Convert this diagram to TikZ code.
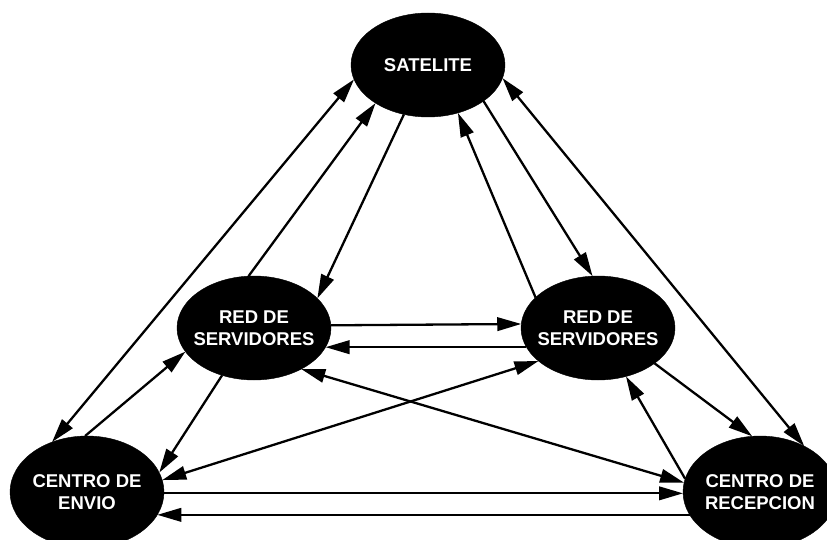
\documentclass[tikz,border=0pt]{standalone}
\usepackage{fontspec}
\setmainfont{Liberation Sans}
\usetikzlibrary{arrows.meta,shapes.geometric}
\tikzset{
  nd/.style={ellipse, fill=black, draw=black, inner sep=0pt, outer sep=0pt,
    text=white, font=\bfseries\fontsize{18.5}{22.5}\selectfont, align=center},
  tipA/.tip={Triangle[length=24pt,width=13.5pt]},
  conn/.style={line width=2.3pt, -tipA},
  bi/.style={line width=2.3pt, tipA-tipA}
}
\newcommand{\zc}[1]{\makebox[0pt][c]{#1}}
\begin{document}
\begin{tikzpicture}[x=1pt,y=-1pt]
\useasboundingbox[fill=white] (0,0) rectangle (827,540);
\node[nd, minimum width=154pt, minimum height=104pt] (sat) at (428,65) {\zc{SATELITE}};
\node[nd, minimum width=154pt, minimum height=104pt] (redL) at (254,328) {\zc{RED DE}\\\zc{SERVIDORES}};
\node[nd, minimum width=154pt, minimum height=104pt] (redR) at (598,328) {\zc{RED DE}\\\zc{SERVIDORES}};
\node[nd, minimum width=154pt, minimum height=112pt] (env) at (87,492) {\zc{CENTRO DE}\\\zc{ENVIO}};
\node[nd, minimum width=154pt, minimum height=112pt] (rec) at (760,492) {\zc{CENTRO DE}\\\zc{RECEPCION}};
% connectors
\draw[bi] (env.125.4) -- (sat.191.3);
\draw[conn] (env.92) -- (redL.199.4);
\draw[conn] (redL.236.8) -- (env.15.8);
\draw[conn] (redL.96.8) -- (sat.216);
\draw[conn] (sat.244.3) -- (redL.25.1);
\draw[conn] (redR.154.5) -- (sat.302.6);
\draw[conn] (sat.327.2) -- (redR.96.3);
\draw[bi] (sat.350.4) -- (rec.46.2);
\draw[conn] (redR.328.4) -- (rec.98.3);
\draw[conn] (rec.170.8) -- (redR.300.1);
\draw[conn] (redL.2.2) -- (redR.177.8);
\draw[conn] (redR.195.7) -- (redL.-15.7);
\draw[bi] (redL.319.2) -- (rec.173.6);
\draw[bi] (env.9) -- (redR.209.5);
\draw[conn] (env.-1.5) -- (rec.181.5);
\draw[conn] (rec.198.1) -- (env.-18.1);
\end{tikzpicture}
\end{document}
